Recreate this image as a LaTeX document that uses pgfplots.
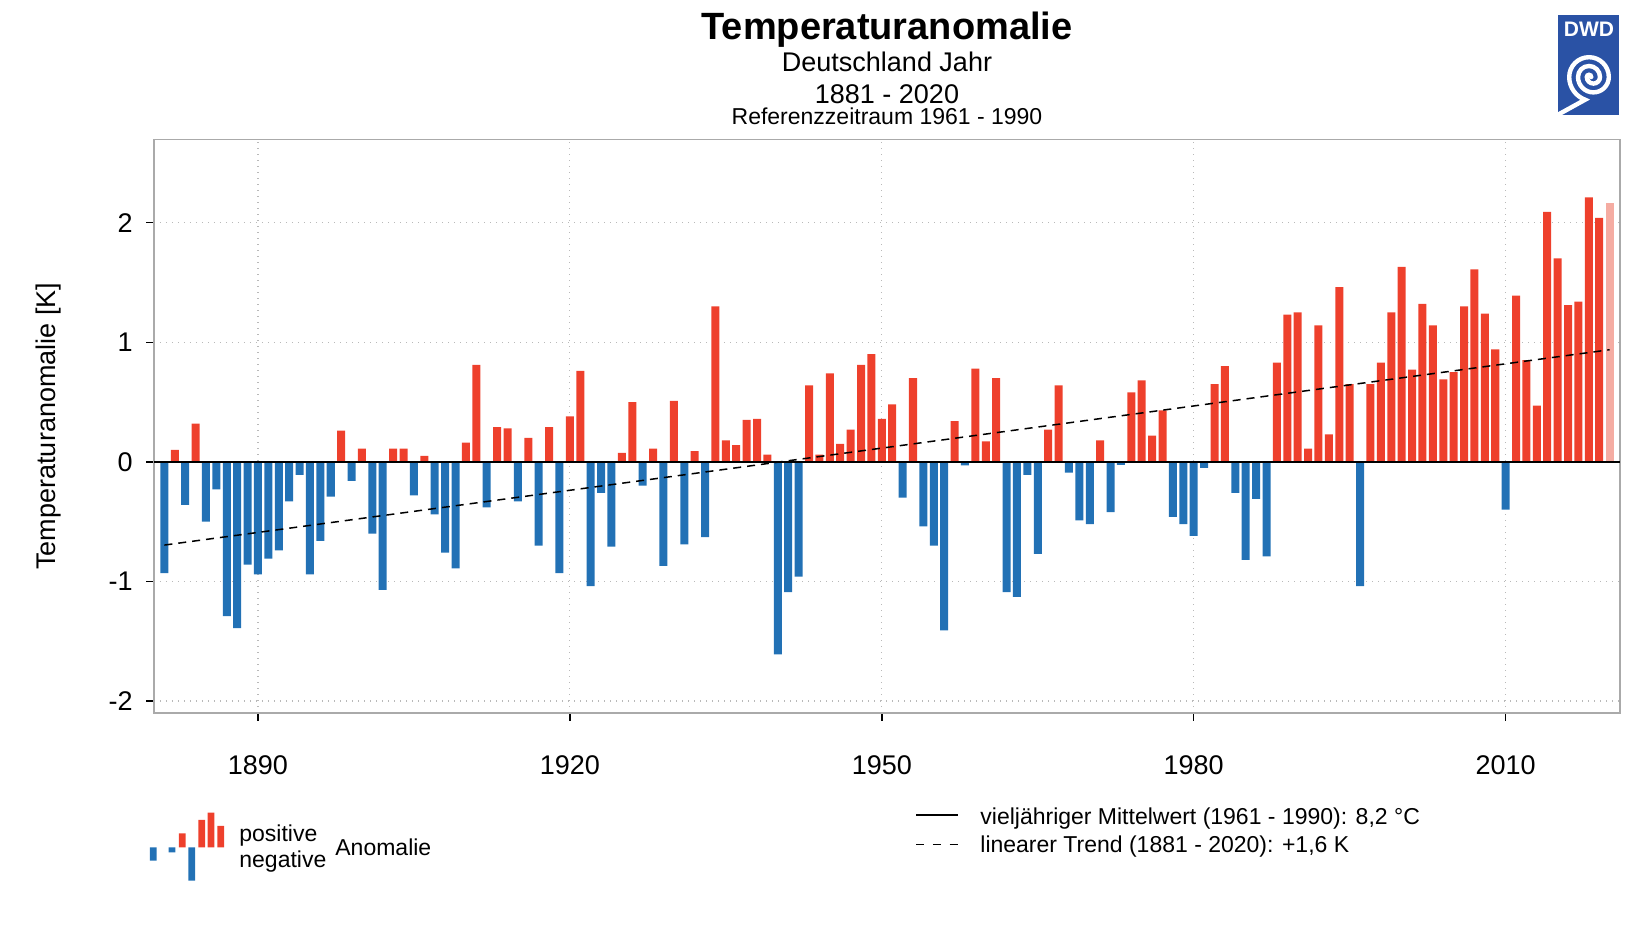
\documentclass[border=0pt]{standalone}
\usepackage{pgfplots}
\pgfplotsset{compat=1.18}
\usepackage{fontspec}
\setmainfont{Liberation Sans}
\definecolor{posred}{RGB}{238,64,44}
\definecolor{negblue}{RGB}{34,113,181}
\definecolor{lightred}{RGB}{245,172,162}
\definecolor{framegray}{RGB}{170,170,170}
\definecolor{dwdblue}{RGB}{42,82,165}
\begin{document}
\begin{tikzpicture}
\path[use as bounding box] (0,0) rectangle (822pt,463pt);
\begin{axis}[
  at={(77pt,106.5pt)}, anchor=south west,
  scale only axis, width=733pt, height=286.75pt,
  xmin=1880, xmax=2021, ymin=-2.1, ymax=2.695,
  axis line style={framegray, line width=0.8pt},
  xtick={1890,1920,1950,1980,2010},
  xticklabels={1890,1920,1950,1980,2010},
  ytick={-2,-1,0,1,2},
  yticklabels={-2,-1,0,1,2},
  tick align=outside,
  xtick pos=left, ytick pos=left,
  major tick length=4pt,
  tick style={black, line width=0.7pt},
  grid=major,
  major grid style={gray!55, line width=0.6pt, dash pattern=on 0.6pt off 2.4pt},
  ticklabel style={font=\fontsize{13.5}{16}\selectfont, inner sep=0pt},
  xticklabel shift=17pt,
  yticklabel shift=6.5pt,
  ylabel={Temperaturanomalie [K]},
  ylabel style={at={(axis description cs:-0.072,0.5)}, anchor=center, font=\fontsize{13.5}{16}\selectfont},
]
% negative anomalies
\addplot[ybar, bar width=0.77, bar shift=0pt, fill=negblue, draw=none] coordinates {
(1881,-0.93) (1883,-0.36) (1885,-0.50) (1886,-0.23) (1887,-1.29) (1888,-1.39)
(1889,-0.86) (1890,-0.94) (1891,-0.81) (1892,-0.74) (1893,-0.33) (1894,-0.11)
(1895,-0.94) (1896,-0.66) (1897,-0.29) (1899,-0.16) (1901,-0.60) (1902,-1.07)
(1905,-0.28) (1907,-0.44) (1908,-0.76) (1909,-0.89) (1912,-0.38) (1915,-0.33)
(1917,-0.70) (1919,-0.93) (1922,-1.04) (1923,-0.26) (1924,-0.71) (1927,-0.20)
(1929,-0.87) (1931,-0.69) (1933,-0.63) (1940,-1.61) (1941,-1.09) (1942,-0.96)
(1952,-0.30) (1954,-0.54) (1955,-0.70) (1956,-1.41) (1958,-0.03) (1962,-1.09)
(1963,-1.13) (1964,-0.11) (1965,-0.77) (1968,-0.09) (1969,-0.49) (1970,-0.52)
(1972,-0.42) (1973,-0.025) (1978,-0.46) (1979,-0.52) (1980,-0.62) (1981,-0.05)
(1984,-0.26) (1985,-0.82) (1986,-0.31) (1987,-0.79) (1996,-1.04) (2010,-0.40)
};
% positive anomalies
\addplot[ybar, bar width=0.77, bar shift=0pt, fill=posred, draw=none] coordinates {
(1882,0.10) (1884,0.32) (1898,0.26) (1900,0.11) (1903,0.11) (1904,0.11)
(1906,0.05) (1910,0.16) (1911,0.81) (1913,0.29) (1914,0.28) (1916,0.20)
(1918,0.29) (1920,0.38) (1921,0.76) (1925,0.075) (1926,0.50) (1928,0.11)
(1930,0.51) (1932,0.09) (1934,1.30) (1935,0.18) (1936,0.14) (1937,0.35)
(1938,0.36) (1939,0.06) (1943,0.64) (1944,0.06) (1945,0.74) (1946,0.15)
(1947,0.27) (1948,0.81) (1949,0.90) (1950,0.36) (1951,0.48) (1953,0.70)
(1957,0.34) (1959,0.78) (1960,0.17) (1961,0.70) (1966,0.27) (1967,0.64)
(1971,0.18) (1974,0.58) (1975,0.68) (1976,0.22) (1977,0.43) (1982,0.65)
(1983,0.80) (1988,0.83) (1989,1.23) (1990,1.25) (1991,0.11) (1992,1.14)
(1993,0.23) (1994,1.46) (1995,0.65) (1997,0.65) (1998,0.83) (1999,1.25)
(2000,1.63) (2001,0.77) (2002,1.32) (2003,1.14) (2004,0.69) (2005,0.75)
(2006,1.30) (2007,1.61) (2008,1.24) (2009,0.94) (2011,1.39) (2012,0.85)
(2013,0.47) (2014,2.09) (2015,1.70) (2016,1.31) (2017,1.34) (2018,2.21)
(2019,2.04)
};
% current (provisional) year
\addplot[ybar, bar width=0.77, bar shift=0pt, fill=lightred, draw=none] coordinates {(2020,2.16)};
% long-term mean (zero line)
\addplot[black, line width=0.75pt] coordinates {(1880,0) (2021,0)};
% linear trend
\addplot[black, line width=0.75pt, dash pattern=on 4pt off 3pt] coordinates {(1881,-0.696) (2020,0.937)};
\end{axis}

% legend icon (small bars)
\begin{axis}[at={(70pt,19.35pt)}, anchor=south west, scale only axis,
  width=45pt, height=40pt, xmin=140, xmax=230, ymin=-40, ymax=40, hide axis]
\addplot[ybar, bar width=6.7, bar shift=0pt, fill=negblue, draw=none] coordinates {(153.3,-13.3) (172,-5) (191.7,-33.3)};
\addplot[ybar, bar width=6.7, bar shift=0pt, fill=posred, draw=none] coordinates {(182.3,14) (201.7,27.3) (211,34.7) (220.7,21.3)};
\end{axis}

% titles
\node[anchor=base, inner sep=0pt, font=\fontsize{19}{22}\selectfont\bfseries] at (443.5pt,443pt) {Temperaturanomalie};
\node[anchor=base, inner sep=0pt, font=\fontsize{13.5}{16}\selectfont] at (443.5pt,427pt) {Deutschland Jahr};
\node[anchor=base, inner sep=0pt, font=\fontsize{13.5}{16}\selectfont] at (443.5pt,411.3pt) {1881 - 2020};
\node[anchor=base, inner sep=0pt, font=\fontsize{11.5}{14}\selectfont] at (443.5pt,400.6pt) {Referenzzeitraum 1961 - 1990};

% left legend text
\node[anchor=base west, inner sep=0pt, font=\fontsize{11.5}{14}\selectfont] at (119.5pt,42.3pt) {positive};
\node[anchor=base west, inner sep=0pt, font=\fontsize{11.5}{14}\selectfont] at (119.5pt,29pt) {negative};
\node[anchor=base west, inner sep=0pt, font=\fontsize{11.5}{14}\selectfont] at (167.5pt,35pt) {Anomalie};

% right legend
\draw[black, line width=0.75pt] (458pt,55.5pt) -- (479pt,55.5pt);
\draw[black, line width=0.75pt, dash pattern=on 4.2pt off 4.2pt] (458pt,40.75pt) -- (479.2pt,40.75pt);
\node[anchor=base west, inner sep=0pt, font=\fontsize{11.5}{14}\selectfont] at (490pt,50.5pt) {vieljähriger Mittelwert (1961 - 1990): 8,2 °C};
\node[anchor=base west, inner sep=0pt, font=\fontsize{11.5}{14}\selectfont] at (490pt,36.5pt) {linearer Trend (1881 - 2020): +1,6 K};

% DWD logo
\fill[dwdblue] (779pt,405.5pt) rectangle (809.5pt,455.5pt);
\node[anchor=base, inner sep=0pt, text=white, font=\fontsize{10.5}{12}\selectfont\bfseries] at (794.5pt,444.5pt) {DWD};
\begin{scope}
\clip (779pt,405.5pt) rectangle (809.5pt,455.5pt);
\draw[white, line width=2.2pt, line cap=round]
  (795.6pt,424.5pt) arc (0:180:1.1pt) arc (180:360:3.3pt) arc (0:180:5.5pt)
  arc (180:360:7.7pt) arc (0:180:9.9pt) arc (180:250:12.1pt) -- (776pt,404pt);
\end{scope}
\end{tikzpicture}
\end{document}
